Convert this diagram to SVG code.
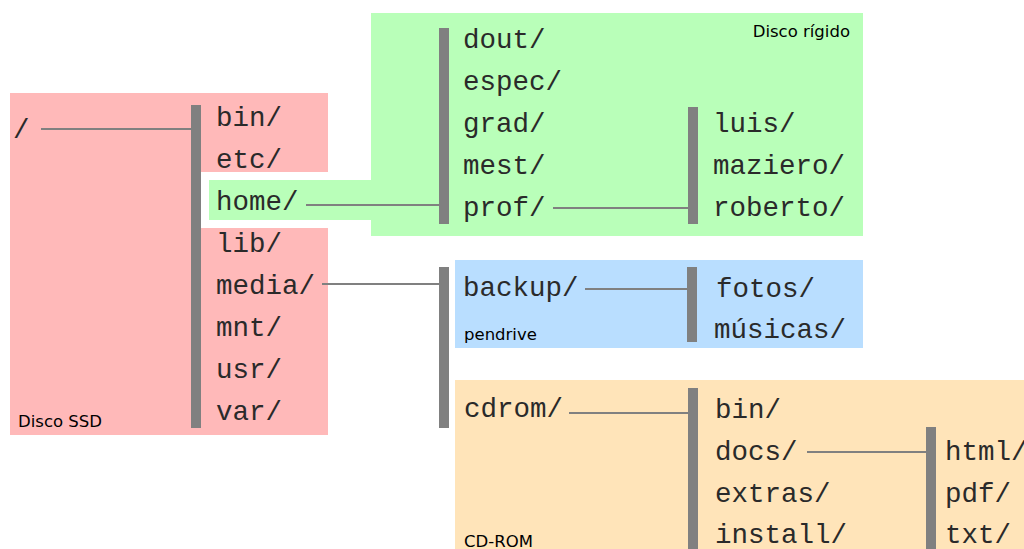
<svg xmlns="http://www.w3.org/2000/svg" width="1024" height="549" viewBox="0 0 1024 549">
<style>
.m{font-family:"Liberation Mono","Courier New",monospace;font-size:27.5px;fill:#2a2a2a}
.s{font-family:"DejaVu Sans",sans-serif;font-size:16.5px;fill:#000}
.bar{fill:#808080}
.ln{stroke:#808080;stroke-width:2.2;fill:none}
</style>
<rect width="1024" height="549" fill="#fff"/>
<g id="ssd">
<path d="M10 93H328V172H201V228H328V435H10Z" fill="#ffb9b9"/>
<text class="s" x="18" y="427">Disco SSD</text>
</g>
<g id="hd">
<rect x="371" y="13" width="492" height="223" fill="#b9ffb9"/>
<rect x="209" y="180" width="162" height="40" fill="#b9ffb9"/>
<text class="s" x="850" y="37" text-anchor="end">Disco rígido</text>
</g>
<g id="pendrive">
<rect x="455" y="260" width="408" height="88" fill="#b9deff"/>
<text class="s" x="464" y="340">pendrive</text>
</g>
<g id="cdrom">
<rect x="455" y="380" width="569" height="169" fill="#ffe4b9"/>
<text class="s" x="464" y="547">CD-ROM</text>
</g>
<g id="connectors">
<line class="ln" x1="41" y1="129" x2="192" y2="129"/>
<line class="ln" x1="306" y1="205" x2="440" y2="205"/>
<line class="ln" x1="553" y1="208" x2="689" y2="208"/>
<line class="ln" x1="322" y1="284" x2="440" y2="284"/>
<line class="ln" x1="585" y1="289" x2="688" y2="289"/>
<line class="ln" x1="569" y1="413" x2="689" y2="413"/>
<line class="ln" x1="807" y1="452" x2="927" y2="452"/>
<rect class="bar" x="191" y="105" width="10" height="323"/>
<rect class="bar" x="439" y="28" width="10" height="196"/>
<rect class="bar" x="688" y="107" width="10" height="117"/>
<rect class="bar" x="439" y="267" width="10" height="161"/>
<rect class="bar" x="687" y="267" width="10" height="75"/>
<rect class="bar" x="688" y="388" width="10" height="161"/>
<rect class="bar" x="926" y="427" width="10" height="122"/>
</g>
<g id="root"><text class="m" x="13" y="138">/</text></g>
<g id="rootdirs">
<text class="m" x="216" y="126">bin/</text>
<text class="m" x="216" y="168">etc/</text>
<text class="m" x="216" y="210">home/</text>
<text class="m" x="216" y="252">lib/</text>
<text class="m" x="216" y="294">media/</text>
<text class="m" x="216" y="336">mnt/</text>
<text class="m" x="216" y="378">usr/</text>
<text class="m" x="216" y="420">var/</text>
</g>
<g id="homedirs">
<text class="m" x="463" y="48">dout/</text>
<text class="m" x="463" y="90">espec/</text>
<text class="m" x="463" y="132">grad/</text>
<text class="m" x="463" y="174">mest/</text>
<text class="m" x="463" y="216">prof/</text>
</g>
<g id="profdirs">
<text class="m" x="713" y="132">luis/</text>
<text class="m" x="713" y="174">maziero/</text>
<text class="m" x="713" y="216">roberto/</text>
</g>
<g id="mediadirs">
<text class="m" x="463" y="296">backup/</text>
<text class="m" x="464" y="417">cdrom/</text>
</g>
<g id="backupdirs">
<text class="m" x="716" y="297">fotos/</text>
<text class="m" x="714" y="338">músicas/</text>
</g>
<g id="cdromdirs">
<text class="m" x="715" y="418">bin/</text>
<text class="m" x="715" y="460">docs/</text>
<text class="m" x="715" y="502">extras/</text>
<text class="m" x="715" y="543">install/</text>
</g>
<g id="docsdirs">
<text class="m" x="945" y="460">html/</text>
<text class="m" x="945" y="502">pdf/</text>
<text class="m" x="945" y="543">txt/</text>
</g>
</svg>
